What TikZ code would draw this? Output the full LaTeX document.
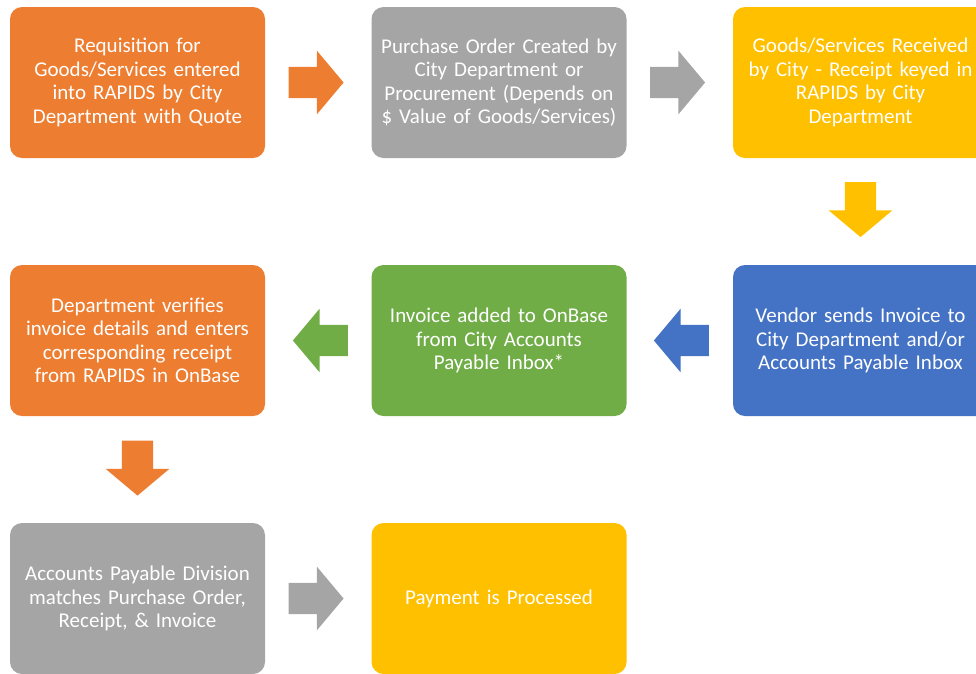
\documentclass[tikz,border=0pt]{standalone}
\usepackage{fontspec}
\setmainfont{Carlito}
\usetikzlibrary{shapes.arrows}

\definecolor{cOrange}{HTML}{ED7D31}
\definecolor{cGray}{HTML}{A5A5A5}
\definecolor{cYellow}{HTML}{FFC000}
\definecolor{cBlue}{HTML}{4472C4}
\definecolor{cGreen}{HTML}{70AD47}

\begin{document}
\begin{tikzpicture}[x=1pt,y=-1pt,
  stage/.style={rounded corners=12pt, minimum width=255pt, minimum height=151pt,
    inner sep=0pt, text=white, align=center, text width=250pt,
    font=\fontsize{21}{23.5}\selectfont},
  flow/.style={single arrow, draw=none, minimum height=55pt,
    single arrow head extend=16pt, single arrow tip angle=100},
  toright/.style={flow, inner xsep=0pt, inner ysep=15.5pt},
  toleft/.style={flow, inner xsep=0pt, inner ysep=15.5pt, shape border rotate=180},
  todown/.style={flow, inner xsep=15.5pt, inner ysep=0pt, shape border rotate=270}]

\useasboundingbox (0,0) rectangle (976,673);
\clip (0,0) rectangle (976,673);

% process steps
\node[stage, fill=cOrange] (req) at (137.5,82.5)
  {Requisition for\\Goods/Services entered\\into RAPIDS by City\\Department with Quote};
\node[stage, fill=cGray] (po) at (499,82.5)
  {Purchase Order Created by\\City Department or\\Procurement (Depends on\\\$ Value of Goods/Services)};
\node[stage, fill=cYellow] (rcv) at (860.5,82.5)
  {Goods/Services Received\\by City - Receipt keyed in\\RAPIDS by City\\Department};

\node[stage, fill=cBlue] (vend) at (860.5,340.5)
  {Vendor sends Invoice to\\City Department and/or\\Accounts Payable Inbox};
\node[stage, fill=cGreen] (inv) at (499,340.5)
  {Invoice added to OnBase\\from City Accounts\\Payable Inbox*};
\node[stage, fill=cOrange] (dept) at (137.5,340.5)
  {Department verifies\\invoice details and enters\\corresponding receipt\\from RAPIDS in OnBase};

\node[stage, fill=cGray] (ap) at (137.5,598.5)
  {Accounts Payable Division\\matches Purchase Order,\\Receipt, \& Invoice};
\node[stage, fill=cYellow] (pay) at (499,598.5)
  {Payment is Processed};

% block arrows between steps
\node[toright, fill=cOrange] (a1) at (309.5,82.5) {};
\node[toright, fill=cGray]   (a2) at (671,82.5) {};
\node[todown,  fill=cYellow] (a3) at (860.5,203) {};
\node[toleft,  fill=cBlue]   (a4) at (688,340.5) {};
\node[toleft,  fill=cGreen]  (a5) at (327,340.5) {};
\node[todown,  fill=cOrange] (a6) at (137.5,461.5) {};
\node[toright, fill=cGray]   (a7) at (309.5,598.5) {};

\end{tikzpicture}
\end{document}
